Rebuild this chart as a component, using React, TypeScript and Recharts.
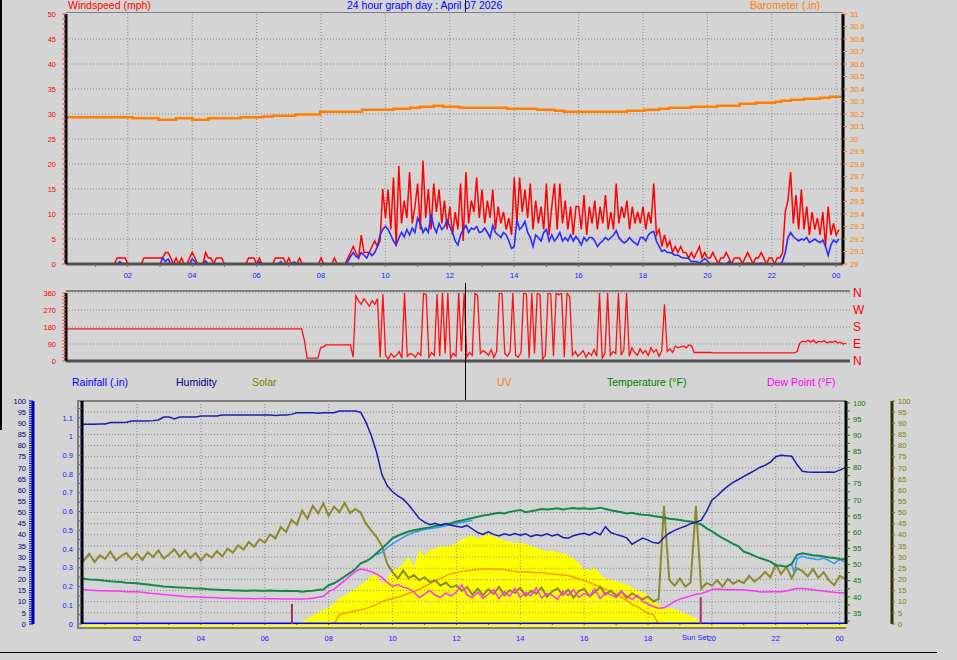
import React from 'react';
import { LineChart, ComposedChart, Line, Area, XAxis, YAxis, ReferenceLine } from 'recharts';

const FONT = '"Liberation Sans", Arial, Helvetica, sans-serif';
const BG = '#d4d4d4';

// ---- axes / labels ----
const HOUR_TICKS = [1, 2, 3, 4, 5, 6, 7, 8, 9, 10, 11, 12, 13, 14, 15, 16, 17, 18, 19, 20, 21, 22, 23, 24];
const HOUR_GRID = [2, 4, 6, 8, 10, 12, 14, 16, 18, 20, 22, 24];
const WIND_GRID = [5, 10, 15, 20, 25, 30, 35, 40, 45];
const BARO_TICKS = [29, 29.1, 29.2, 29.3, 29.4, 29.5, 29.6, 29.7, 29.8, 29.9, 30, 30.1, 30.2, 30.3, 30.4, 30.5, 30.6, 30.7, 30.8, 30.9, 31];
const DIR_TICKS = [0, 18, 36, 54, 72, 90, 108, 126, 144, 162, 180, 198, 216, 234, 252, 270, 288, 306, 324, 342, 360];
const DIR_GRID = [90, 180, 270, 360];
const COMPASS_TICKS = [0, 90, 180, 270, 360];
const COMPASS_NAMES = ['N', 'E', 'S', 'W', 'N'];
const RAIN_LABELS = [0, 0.1, 0.2, 0.3, 0.4, 0.5, 0.6, 0.7, 0.8, 0.9, 1, 1.1];
const TEMP_LABELS = [35, 40, 45, 50, 55, 60, 65, 70, 75, 80, 85, 90, 95, 100];
const SOLAR_LABELS = [0, 5, 10, 15, 20, 25, 30, 35, 40, 45, 50, 55, 60, 65, 70, 75, 80, 85, 90, 95, 100];
const HUM_GRID = [5, 10, 15, 20, 25, 30, 35, 40, 45, 50, 55, 60, 65, 70, 75, 80, 85, 90, 95];

// ---- wind, 5 minute readings (one row per hour) ----
const GUST_MPH = [
  1.2, 0, 0, 0, 0, 0, 0, 0, 0, 0, 0, 0,
  0, 0, 0, 0, 0, 0, 0, 0, 1.2, 1.2, 1.2, 1.2,
  0, 0, 0, 0, 0, 0, 1.2, 1.2, 1.2, 1.2, 1.2, 1.2,
  1.2, 1.2, 2.3, 2.3, 1.2, 0, 1.2, 0, 1.2, 0, 0, 1.2,
  2.3, 1.2, 0, 0, 0, 2.3, 1.2, 1.2, 0, 1.2, 1.2, 1.2,
  0, 0, 0, 0, 0, 0, 0, 0, 0, 1.2, 1.2, 1.2,
  0, 1.2, 0, 0, 0, 0, 0, 1.2, 1.2, 1.2, 1.2, 0,
  1.2, 0, 0, 0, 1.2, 0, 0, 0, 0, 0, 0, 0,
  1.2, 0, 0, 0, 0, 1.2, 0, 0, 0, 0, 1.2, 2.3,
  3.5, 2.3, 1.2, 5.8, 2.3, 2.3, 2.3, 3.5, 4.6, 3.5, 4.6, 15,
  9.2, 14.9, 6.9, 17.3, 3.5, 19.6, 8.1, 12.7, 9.2, 18.4, 8.1, 11.5,
  16.1, 6.9, 20.7, 9.2, 15, 6.9, 16.1, 10.4, 14.9, 8.1, 12.7, 6.9,
  11.5, 5.8, 10.4, 6.9, 16.1, 4.6, 18.4, 8.1, 12.7, 10.4, 17.3, 9.2,
  14.9, 8.1, 12.7, 9.2, 14.9, 6.9, 11.5, 8.1, 10.4, 6.9, 9.2, 5.8,
  17.3, 8.1, 17.3, 10.4, 14.9, 9.2, 16.1, 6.9, 12.7, 8.1, 11.5, 6.9,
  16.1, 5.8, 11.5, 16.1, 6.9, 16.1, 8.1, 12.7, 6.9, 11.5, 5.8, 11.5,
  11.5, 6.9, 13.8, 5.8, 11.5, 8.1, 12.7, 6.9, 11.5, 8.1, 13.8, 6.9,
  10.4, 6.9, 16.1, 8.1, 11.5, 9.2, 12.7, 6.9, 11.5, 8.1, 10.4, 8.1,
  11.5, 6.9, 10.4, 8.1, 16.1, 5.8, 6.9, 3.5, 5.8, 3.5, 4.6, 2.3,
  3.5, 2.3, 3.5, 2.3, 2.3, 1.2, 2.3, 1.2, 2.3, 3.5, 1.2, 2.3,
  1.2, 1.2, 2.3, 1.2, 0, 1.2, 1.2, 2.3, 1.2, 0, 1.2, 1.2,
  1.2, 0, 1.2, 2.3, 1.2, 0, 1.2, 1.2, 2.3, 1.2, 0, 1.2,
  1.2, 0, 1.2, 1.2, 2.3, 10.4, 12.7, 18.4, 8.1, 13.8, 6.9, 14.9,
  6.9, 11.5, 5.8, 10.4, 6.9, 9.2, 5.8, 10.4, 3.5, 11.5, 5.8, 8.1,
  5.8, 6.9,
];

const AVG_MPH = [
  0, 0, 0, 0, 0, 0, 0, 0, 0, 0, 0, 0,
  0, 0, 0, 0, 0, 0, 0, 0, 0, 0.5, 0, 0,
  0, 0, 0, 0, 0, 0, 0, 0, 0, 0, 0, 0,
  0, 1.2, 0.5, 1, 0, 0, 0, 0, 0, 0, 0, 0,
  1, 0.5, 0, 0, 0, 0.6, 0, 0, 0, 0, 0, 0,
  0, 0, 0, 0, 0, 0, 0, 0, 0, 0, 0, 0,
  0, 0.4, 0, 0, 0, 0, 0, 0, 0, 0.5, 0, 0,
  0, 0, 0.4, 0, 0, 0, 0, 0, 0, 0, 0, 0,
  0, 0, 0, 0, 0, 0, 0, 0, 0, 0, 0.5, 1.5,
  2.3, 1.5, 1.2, 2.3, 1.8, 1.2, 2.3, 1.7, 2.3, 3.5, 5.8, 6.9,
  7.5, 6.9, 5.8, 4.6, 3.8, 5.2, 6.3, 5.4, 6.9, 5.8, 7.2, 6.3,
  9.2, 8.1, 6.3, 7.2, 6.3, 10, 7.5, 6.3, 8.1, 6.9, 7.5, 8.8,
  7.5, 6.3, 4.6, 3.8, 5.8, 6.9, 7.7, 6.3, 7.2, 6.9, 7.5, 6.3,
  6.5, 7.2, 6.3, 5.3, 7.7, 6.3, 5.8, 5.3, 6.3, 5.8, 4.6, 3.1,
  3.5, 8.8, 6.9, 7.5, 8.5, 6.3, 5.3, 3.5, 5.8, 5.3, 4.6, 6.3,
  6.9, 4.6, 5.8, 4.6, 5.3, 6.3, 4.6, 5.3, 4.6, 5.8, 4.6, 5.5,
  4.8, 3.8, 5.3, 4.6, 5.3, 5.3, 4.6, 3.5, 4.2, 4.6, 5.3, 4.8,
  5.3, 5.8, 6.7, 5.3, 4.6, 4.2, 4.6, 5.3, 4.6, 4.2, 3.8, 5.3,
  5.3, 4.6, 5.8, 6.3, 6.5, 4.6, 3.5, 2.5, 2.8, 2.3, 2.3, 2.1,
  1.7, 1.8, 1.4, 1.2, 1.2, 1.1, 0.5, 0.5, 0.5, 0.2, 0.6, 1.1,
  0.6, 0, 0, 0, 0, 0.2, 0, 0, 0.5, 0, 0, 0,
  0, 0, 0, 0.2, 0, 0, 0, 0, 0.2, 0, 0, 0,
  0, 0, 0, 0, 0.6, 2.3, 5.3, 6.3, 5.5, 5.0, 4.6, 5.0,
  4.8, 5.3, 4.3, 4.6, 5.0, 4.6, 4.3, 4.8, 3.5, 1.7, 3.8, 4.8,
  4.3, 5.0,
];

const DIR_DEG = [
  170, 170, 170, 170, 170, 170, 170, 170, 170, 170, 170, 170,
  170, 170, 170, 170, 170, 170, 170, 170, 170, 170, 170, 170,
  170, 170, 170, 170, 170, 170, 170, 170, 170, 170, 170, 170,
  170, 170, 170, 170, 170, 170, 170, 170, 170, 170, 170, 170,
  170, 170, 170, 170, 170, 170, 170, 170, 170, 170, 170, 170,
  170, 170, 170, 170, 170, 170, 170, 170, 170, 170, 170, 170,
  170, 170, 170, 170, 170, 170, 170, 170, 170, 170, 170, 170,
  170, 170, 170, 170, 170, 110, 15, 15, 15, 15, 15, 70,
  75, 85, 85, 85, 85, 85, 85, 85, 85, 85, 85, 20,
  345, 320, 300, 330, 310, 290, 320, 300, 330, 20, 355, 30,
  10, 40, 20, 30, 50, 15, 360, 25, 40, 35, 20, 45,
  30, 360, 350, 20, 45, 30, 355, 25, 360, 40, 360, 15,
  40, 25, 360, 50, 360, 20, 45, 30, 360, 345, 40, 55,
  45, 30, 60, 20, 50, 360, 355, 40, 25, 50, 360, 30,
  20, 45, 360, 355, 15, 360, 40, 360, 350, 10, 30, 360,
  355, 25, 360, 350, 360, 20, 360, 340, 30, 50, 25, 40,
  55, 20, 45, 30, 60, 25, 360, 15, 40, 360, 30, 50,
  40, 360, 30, 60, 360, 25, 70, 45, 30, 65, 40, 55,
  30, 70, 45, 60, 25, 55, 300, 50, 65, 45, 80, 70,
  75, 80, 70, 85, 80, 45, 45, 45, 45, 45, 45, 45,
  43, 43, 43, 43, 43, 43, 43, 43, 43, 43, 43, 43,
  43, 43, 43, 43, 43, 43, 43, 43, 43, 43, 43, 43,
  43, 43, 43, 43, 43, 43, 43, 50, 95, 105, 100, 110,
  100, 110, 95, 105, 100, 108, 95, 102, 98, 106, 95, 100,
  90, 95,
];

// ---- barometer steps ----
const BARO_HOURS = [0, 2.15, 2.95, 3.5, 4.0, 4.5, 5.5, 6.2, 6.5, 7.2, 7.97, 9.27, 10.25, 10.77, 11.08, 11.5, 11.8, 12.3, 13.78, 14.71, 15.27, 15.55, 17.5, 18.04, 18.5, 18.8, 19.5, 20.3, 21.0, 21.5, 22.1, 22.3, 22.6, 23.0, 23.5, 23.8, 24.3];
const BARO_INHG = [30.174, 30.166, 30.155, 30.166, 30.155, 30.166, 30.174, 30.181, 30.187, 30.197, 30.219, 30.235, 30.243, 30.251, 30.259, 30.267, 30.259, 30.251, 30.243, 30.235, 30.227, 30.219, 30.227, 30.235, 30.243, 30.251, 30.259, 30.267, 30.283, 30.291, 30.299, 30.307, 30.315, 30.323, 30.331, 30.339, 30.339];

// ---- lower graph, 10 minute readings (one row per hour) ----
const HUMIDITY = [
  89.5, 89.6, 89.6, 89.6, 89.6, 89.7,
  89.7, 90.4, 90.4, 90.4, 90.5, 91.0,
  91.0, 91.0, 91.0, 91.2, 91.5, 92.8,
  92.8, 92.0, 92.8, 92.8, 92.8, 92.8,
  93.3, 93.3, 93.3, 93.3, 93.7, 93.7,
  93.7, 93.7, 93.7, 93.7, 93.7, 93.7,
  93.7, 93.7, 93.5, 93.7, 93.7, 94.0,
  94.7, 94.7, 94.7, 94.7, 94.5, 94.7,
  94.7, 94.7, 95.5, 95.5, 95.5, 95.5,
  95.0, 90.5, 84.5, 77.0, 67.0, 62.0,
  59.3, 57.5, 56.0, 53.5, 50.5, 47.3,
  45.7, 44.5, 45.2, 44.2, 45.0, 44.3,
  43.8, 43.4, 44.2, 42.6, 41.0, 40.2,
  41.3, 40.2, 39.5, 40.5, 39.8, 40.6,
  39.8, 40.5, 39.2, 40.0, 39.6, 40.4,
  39.5, 40.2, 38.8, 38.5, 39.6, 40.2,
  40.7, 39.8, 41.2, 40.0, 43.6, 41.0,
  40.2, 39.5, 38.6, 35.8, 37.2, 38.5,
  37.6, 36.5, 36.2, 38.8, 40.7, 42.0,
  43.0, 43.8, 45.0, 45.6, 46.6, 50.5,
  55.5, 57.5, 59.8, 61.8, 63.5, 64.8,
  66.2, 67.5, 68.8, 70.2, 71.2, 72.6,
  75.0, 75.7, 75.5, 75.2, 71.5, 68.5,
  68.2, 68.0, 68.0, 68.0, 68.2, 68.0,
  69.0, 70.0,
];

const TEMP_F = [
  46.0, 45.8, 45.6, 45.4, 45.3, 45.2,
  45.0, 44.8, 44.7, 44.6, 44.4, 44.3,
  44.2, 44.0, 43.8, 43.6, 43.4, 43.2,
  43.1, 43.0, 42.9, 42.8, 42.7, 42.6,
  42.6, 42.4, 42.3, 42.2, 42.1, 42.1,
  42.0, 42.0, 41.9, 41.9, 42.0, 41.9,
  41.9, 42.0, 41.9, 41.8, 41.9, 41.8,
  41.8, 41.6, 41.8, 41.9, 42.1, 42.3,
  43.6, 44.2, 45.2, 46.3, 47.4, 48.6,
  50.4, 51.0, 52.0, 53.5, 55.0, 56.5,
  58.1, 58.9, 59.6, 60.2, 60.6, 60.9,
  61.2, 61.5, 61.9, 62.2, 62.5, 62.8,
  63.3, 63.6, 64.0, 64.4, 64.8, 65.2,
  65.4, 65.7, 66.0, 65.8, 66.3, 66.6,
  66.9, 66.2, 66.5, 66.8, 67.2, 67.0,
  67.2, 67.4, 67.0, 67.3, 67.5, 67.3,
  67.4, 67.2, 67.3, 67.6, 67.2, 66.8,
  66.5, 66.2, 65.8, 66.0, 65.6, 65.4,
  65.3, 65.0, 64.8, 64.5, 64.2, 64.0,
  63.8, 63.5, 63.3, 62.9, 62.4, 61.2,
  60.3, 59.2, 58.2, 57.3, 56.4, 55.6,
  54.0, 53.4, 52.7, 52.0, 51.5, 50.9,
  49.8, 49.6, 49.3, 50.2, 53.0, 53.5,
  53.2, 52.9, 52.7, 52.5, 52.2, 52.0,
  51.7, 51.6,
];

const DEW_F = [
  42.6, 42.4, 42.3, 42.1, 42.0, 41.9,
  41.9, 41.8, 41.8, 41.7, 41.6, 41.6,
  41.6, 41.4, 41.2, 41.0, 40.9, 40.7,
  40.6, 40.4, 40.3, 40.1, 40.0, 40.0,
  39.9, 39.8, 39.8, 39.7, 39.6, 39.6,
  39.6, 39.5, 39.5, 39.5, 39.4, 39.5,
  39.5, 39.4, 39.4, 39.3, 39.3, 39.3,
  39.3, 39.3, 39.4, 39.6, 39.9, 40.2,
  41.6, 42.4, 43.7, 45.0, 46.5, 47.8,
  48.6, 48.3, 47.8, 47.0, 46.0, 44.5,
  43.2, 43.8, 43.0, 42.6, 41.5, 39.8,
  40.8, 42.0, 40.5, 39.8, 41.2, 40.2,
  41.5, 43.7, 40.6, 39.8, 41.4, 39.6,
  40.8, 42.2, 39.5, 41.6, 40.2, 42.6,
  39.8, 41.4, 40.3, 42.8, 39.6, 41.0,
  40.5, 39.2, 41.8, 40.4, 42.2, 39.8,
  41.0, 40.3, 42.4, 39.5, 41.2, 40.6,
  39.8, 41.6, 40.2, 39.2, 40.5, 38.6,
  37.8, 37.0, 36.5, 36.6, 37.5, 38.6,
  39.3, 39.8, 40.3, 40.8, 41.0, 41.6,
  42.3, 42.4, 42.3, 42.2, 42.3, 42.2,
  42.2, 42.0, 41.8, 41.6, 41.5, 41.6,
  41.6, 41.6, 41.8, 42.3, 42.6, 42.6,
  42.4, 42.2, 42.0, 41.8, 41.6, 41.4,
  41.3, 41.2,
];

const OLIVE = [
  26.0, 32.7, 28.5, 31.5, 27.8, 30.8,
  29.2, 32.4, 28.6, 30.5, 31.8, 29.0,
  31.6, 28.8, 32.2, 30.0, 33.0, 29.4,
  31.2, 33.5, 30.2, 32.8, 29.6, 31.8,
  28.4, 31.5, 29.8, 32.6, 30.4, 33.8,
  32.0, 35.2, 33.4, 36.8, 34.6, 38.0,
  36.5, 40.2, 38.4, 43.5, 41.2, 46.8,
  44.5, 50.8, 47.2, 53.0, 49.6, 54.0,
  48.5, 52.6, 50.2, 54.2, 49.8, 51.6,
  50.0, 45.0, 42.0, 39.0, 35.0, 27.0,
  23.3, 20.4, 24.0, 20.6, 22.0, 19.6,
  21.0, 18.8, 19.6, 17.2, 18.6, 16.4,
  17.3, 14.8, 16.6, 13.2, 15.8, 12.9,
  15.6, 13.4, 16.7, 12.8, 15.2, 14.0,
  16.2, 12.6, 14.8, 13.6, 16.4, 12.2,
  14.6, 16.0, 13.0, 15.4, 11.8, 14.8,
  15.8, 12.4, 14.2, 16.6, 13.2, 15.0,
  12.6, 14.6, 11.6, 13.8, 12.2, 11.0,
  12.3, 10.1, 11.2, 53.0, 19.8, 17.2,
  20.4, 16.8, 18.6, 53.0, 15.8, 18.4,
  17.2, 19.6, 16.8, 20.2, 18.0, 19.4,
  18.4, 21.6, 19.0, 20.8, 23.3, 21.0,
  26.8, 22.4, 25.6, 20.6, 25.0, 23.8,
  21.4, 24.6, 20.8, 23.2, 19.6, 17.4,
  21.6, 20.2,
];

const SOLAR = [
  0, 0, 0, 0, 0, 0,
  0, 0, 0, 0, 0, 0,
  0, 0, 0, 0, 0, 0,
  0, 0, 0, 0, 0, 0,
  0, 0, 0, 0, 0, 0,
  0, 0, 0, 0, 0, 0,
  0, 0, 0, 0, 0, 0,
  0, 0.8, 2.2, 3.8, 5.0, 6.0,
  7.0, 9.2, 11.4, 12.6, 14.2, 15.5,
  17.2, 19.4, 21.0, 22.4, 17.3, 20.5,
  23.2, 24.8, 26.8, 29.8, 25.0, 32.7,
  30.5, 33.0, 33.4, 35.0, 34.2, 34.9,
  36.0, 37.8, 38.6, 39.3, 38.0, 39.2,
  40.0, 39.0, 38.2, 37.0, 36.8, 36.0,
  36.4, 35.6, 34.9, 34.0, 33.0, 32.4,
  32.6, 32.0, 31.6, 30.5, 29.0, 27.0,
  24.6, 24.0, 24.8, 22.0, 20.2, 19.6,
  19.0, 18.2, 17.6, 16.0, 15.0, 13.8,
  12.4, 10.2, 8.4, 7.0, 6.8, 6.4,
  5.6, 4.6, 3.4, 2.0, 0.6, 0,
  0, 0, 0, 0, 0, 0,
  0, 0, 0, 0, 0, 0,
  0, 0, 0, 0, 0, 0,
  0, 0, 0, 0, 0, 0,
  0, 0,
];

const UV = [
  null, null, null, null, null, null,
  null, null, null, null, null, null,
  null, null, null, null, null, null,
  null, null, null, null, null, null,
  null, null, null, null, null, null,
  null, null, null, null, null, null,
  null, null, null, null, null, null,
  null, null, null, null, null, null,
  null, 0, 4.1, 4.8, 5.4, 5.8,
  6.4, 7.0, 7.8, 8.8, 10.0, 10.8,
  11.4, 12.0, 12.8, 13.8, 14.6, 15.6,
  16.8, 18.0, 19.2, 20.4, 21.6, 22.6,
  23.0, 23.6, 23.9, 24.2, 24.6, 24.6,
  24.8, 24.6, 24.6, 24.4, 24.0, 23.6,
  23.2, 23.4, 23.2, 23.0, 23.2, 22.6,
  22.4, 22.2, 22.0, 21.7, 21.0, 20.2,
  19.5, 18.6, 17.6, 16.8, 15.6, 14.4,
  13.4, 12.0, 10.6, 8.8, 7.8, 6.2,
  4.8, 4.1, 0, null, null, null,
  null, null, null, null, null, null,
  null, null, null, null, null, null,
  null, null, null, null, null, null,
  null, null, null, null, null, null,
  null, null, null, null, null, null,
  null, null,
];

const RAIN_HOURS = [0, 1, 2, 3, 4, 5, 6, 7, 8, 9, 10, 11, 12, 13, 14, 15, 16, 17, 18, 19, 20, 21, 22, 23, 24, 24.3];
const RAIN_IN = [0, 0, 0, 0, 0, 0, 0, 0, 0, 0, 0, 0, 0, 0, 0, 0, 0, 0, 0, 0, 0, 0, 0, 0, 0, 0];

const CHILL_HOURS = [9.5, 9.67, 9.83, 10.0, 10.17, 10.33, 10.5, 10.67, 10.83, 11.0, 11.5, 12.0, 12.5, 17.0, 22.5, 22.58, 22.67, 22.83, 23.0, 23.17, 23.33, 23.5, 23.67, 23.83, 24.0, 24.17];
const CHILL_F = [53.0, 53.8, 55.2, 56.4, 57.4, 58.4, 59.3, 59.9, 60.4, 60.8, 61.6, 62.8, 63.6, null, 50.0, 47.4, 51.8, 52.6, 52.0, 51.8, 51.5, 52.0, 51.2, 50.3, 51.6, 50.8];

const SUNRISE_H = 6.85;
const SUNSET_H = 19.65;

// ---- tables ----
const windRows = GUST_MPH.map((g, i) => ({ h: i / 12, gust: g, avg: AVG_MPH[i], dir: DIR_DEG[i] }));
const baroRows = BARO_HOURS.map((h, i) => ({ h, baro: BARO_INHG[i] }));
const lowRows = HUMIDITY.map((v, i) => ({
  h: i / 6,
  hum: v,
  temp: TEMP_F[i],
  dew: DEW_F[i],
  olive: OLIVE[i],
  solar: SOLAR[i],
  uv: UV[i],
}));
const chillRows = CHILL_HOURS.map((h, i) => ({ h, chill: CHILL_F[i] }));
const rainRows = RAIN_HOURS.map((h, i) => ({ h, rain: RAIN_IN[i] }));

const WIND_TICKS = Array.from({ length: 51 }, (_, i) => i);
const HUM_TICKS = Array.from({ length: 101 }, (_, i) => i);
const RAIN_TICKS = RAIN_LABELS.flatMap((v) => [v, v + 0.05]);
const TEMP_TICKS = TEMP_LABELS.flatMap((v) => [v - 2.5, v]);

const hourLabel = (h: number) => (h % 2 === 0 ? String(h % 24).padStart(2, '0') : '');
const tickFont = (fill: string) => ({ fill, fontSize: 7.5, fontFamily: FONT });
const dotted = { stroke: '#8c8c8c', strokeDasharray: '1 2', strokeWidth: 1 };

const LEGEND = [
  { text: 'Rainfall (.in)', color: '#0000ff', x: 72 },
  { text: 'Humidity', color: '#000080', x: 176 },
  { text: 'Solar', color: '#808000', x: 252 },
  { text: 'UV', color: '#ff8000', x: 497 },
  { text: 'Temperature (°F)', color: '#008000', x: 607 },
  { text: 'Dew Point (°F)', color: '#ff00ff', x: 767 },
];

const abs = (left: number, top: number, extra: React.CSSProperties = {}): React.CSSProperties => ({
  position: 'absolute',
  left,
  top,
  ...extra,
});

export default function App() {
  return (
    <div style={{ position: 'absolute', left: 0, top: 0, width: 957, height: 660, background: BG, overflow: 'hidden', fontFamily: FONT }}>
      {/* frames */}
      <div style={abs(66, 12, { width: 777, height: 1, background: '#808080' })} />
      <div style={abs(66, 290, { width: 784, height: 1.5, background: '#808080' })} />
      <div style={abs(77, 400, { width: 767, height: 225, borderLeft: '2px solid #808080', borderTop: '2px solid #808080', borderBottom: '2px solid #808080' })} />
      <div style={abs(0, 0, { width: 1.5, height: 430, background: '#000' })} />
      <div style={abs(0, 652, { width: 937, height: 1, background: '#000' })} />

      {/* titles */}
      <div style={abs(68, -1, { color: '#ff0000', fontSize: 10.5 })}>Windspeed (mph)</div>
      <div style={abs(347, -1, { color: '#0000ff', fontSize: 10.5 })}>24 hour graph day : April 07 2026</div>
      <div style={abs(750, -1, { color: '#ff8000', fontSize: 10.5 })}>Barometer (.in)</div>
      <div style={abs(465, 0, { width: 1, height: 12, background: '#000' })} />

      {/* wind speed + barometer */}
      <div style={abs(0, 0)}>
        <LineChart width={957} height={286} data={windRows} margin={{ top: 14, right: 59, bottom: 0, left: 8 }}>
          <XAxis dataKey="h" type="number" domain={[0.08, 24.21]} allowDataOverflow ticks={HOUR_TICKS} interval={0}
            tickFormatter={hourLabel} height={22} tickSize={3} tickMargin={6} tick={tickFont('#2020ff')}
            tickLine={{ stroke: '#707070' }} axisLine={{ stroke: '#505050', strokeWidth: 3 }} />
          <YAxis yAxisId="wind" domain={[0, 50]} allowDataOverflow ticks={WIND_TICKS} interval={0}
            tickFormatter={(v: number) => (v % 5 === 0 ? String(v) : '')} width={58} tickSize={4} tickMargin={6}
            tick={tickFont('#ff0000')} tickLine={{ stroke: '#ff5050' }} axisLine={{ stroke: '#000', strokeWidth: 3 }} />
          <YAxis yAxisId="baro" orientation="right" domain={[29, 31]} allowDataOverflow ticks={BARO_TICKS} interval={0}
            tickFormatter={(v: number) => (Number.isInteger(v) ? String(v) : v.toFixed(1))} width={55} tickSize={4} tickMargin={3}
            tick={tickFont('#ff8000')} tickLine={{ stroke: '#ff8000' }} axisLine={{ stroke: '#000', strokeWidth: 3 }} />
          {WIND_GRID.map((v) => <ReferenceLine key={'wg' + v} yAxisId="wind" y={v} {...dotted} />)}
          {HOUR_GRID.map((h) => <ReferenceLine key={'wv' + h} yAxisId="wind" x={h} {...dotted} />)}
          <Line yAxisId="baro" data={baroRows} dataKey="baro" type="stepAfter" stroke="#ff8000" strokeWidth={2.5} dot={false} activeDot={false} isAnimationActive={false} />
          <Line yAxisId="wind" dataKey="gust" type="linear" stroke="#ff0000" strokeWidth={1.5} dot={false} activeDot={false} isAnimationActive={false} />
          <Line yAxisId="wind" dataKey="avg" type="linear" stroke="#2b2bff" strokeWidth={1.6} dot={false} activeDot={false} isAnimationActive={false} />
        </LineChart>
      </div>

      {/* wind direction */}
      <div style={abs(0, 285)}>
        <LineChart width={957} height={88} data={windRows} margin={{ top: 8, right: 67, bottom: 12, left: 8 }}>
          <XAxis dataKey="h" type="number" domain={[0.08, 24.21]} allowDataOverflow hide />
          <YAxis yAxisId="dir" domain={[0, 360]} allowDataOverflow ticks={DIR_TICKS} interval={0}
            tickFormatter={(v: number) => (v % 90 === 0 ? String(v) : '')} width={58} tickSize={4} tickMargin={6}
            tick={tickFont('#ff0000')} tickLine={{ stroke: '#ff5050' }} axisLine={{ stroke: '#000', strokeWidth: 3 }} />
          <YAxis yAxisId="compass" orientation="right" domain={[0, 360]} allowDataOverflow ticks={COMPASS_TICKS} interval={0}
            tickFormatter={(v: number) => COMPASS_NAMES[COMPASS_TICKS.indexOf(v)]} width={40} tickSize={0} tickMargin={3}
            tick={{ fill: '#ff0000', fontSize: 12, fontFamily: FONT }} tickLine={false} axisLine={false} />
          {DIR_GRID.map((v) => <ReferenceLine key={'dg' + v} yAxisId="dir" y={v} {...dotted} />)}
          <ReferenceLine yAxisId="dir" y={0} stroke="#505050" strokeWidth={3} />
          <Line yAxisId="compass" dataKey="dir" type="linear" stroke="none" strokeWidth={0} dot={false} activeDot={false} isAnimationActive={false} />
          <Line yAxisId="dir" dataKey="dir" type="linear" stroke="#ff1010" strokeWidth={1.3} dot={false} activeDot={false} isAnimationActive={false} />
        </LineChart>
      </div>

      {/* cursor */}
      <div style={abs(465, 283, { width: 1, height: 117, background: '#000' })} />

      {/* legend row */}
      {LEGEND.map((l) => (
        <div key={l.text} style={abs(l.x, 376, { color: l.color, fontSize: 10.5 })}>{l.text}</div>
      ))}

      {/* lower graph: ids prefixed so that rain and temp sit next to the plot */}
      <div style={abs(0, 392)}>
        <ComposedChart width={957} height={260} data={lowRows} margin={{ top: 9, right: 35, bottom: 0, left: 8 }}>
          <XAxis dataKey="h" type="number" domain={[0.275, 24.2]} allowDataOverflow ticks={HOUR_TICKS} interval={0}
            tickFormatter={hourLabel} height={28} tickSize={4} tickMargin={8} tick={tickFont('#2020ff')}
            tickLine={{ stroke: '#606060' }} axisLine={false} />
          <YAxis yAxisId="a_rain" domain={[0, 1.19]} allowDataOverflow ticks={RAIN_TICKS} interval={0}
            tickFormatter={(v: number, i: number) => (i % 2 === 0 ? String(Math.round(v * 10) / 10) : '')}
            width={49} tickSize={3} tickMargin={6} tick={tickFont('#2020ff')} tickLine={{ stroke: '#4040ff' }}
            axisLine={{ stroke: '#000', strokeWidth: 3 }} />
          <YAxis yAxisId="b_hum" domain={[0, 100]} allowDataOverflow ticks={HUM_TICKS} interval={0}
            tickFormatter={(v: number) => (v % 5 === 0 ? String(v) : '')} width={25} tickSize={4} tickMargin={3}
            tick={tickFont('#000080')} tickLine={{ stroke: '#0000c0' }} axisLine={{ stroke: '#0000b0', strokeWidth: 3 }} />
          <YAxis yAxisId="a_temp" orientation="right" domain={[31.6, 100.6]} allowDataOverflow ticks={TEMP_TICKS} interval={0}
            tickFormatter={(v: number) => (v % 5 === 0 ? String(v) : '')} width={46} tickSize={4} tickMargin={3}
            tick={tickFont('#008000')} tickLine={{ stroke: '#008000' }} axisLine={{ stroke: '#000', strokeWidth: 3 }} />
          <YAxis yAxisId="b_sol" orientation="right" domain={[0, 100]} allowDataOverflow ticks={SOLAR_LABELS} interval={0}
            width={30} tickSize={3} tickMargin={3} tick={tickFont('#808000')} tickLine={{ stroke: '#808000' }}
            axisLine={{ stroke: '#333300', strokeWidth: 3 }} />
          {HUM_GRID.map((v) => <ReferenceLine key={'hg' + v} yAxisId="b_hum" y={v} {...dotted} />)}
          {HOUR_GRID.map((h) => <ReferenceLine key={'hv' + h} yAxisId="b_hum" x={h} {...dotted} />)}
          <Area yAxisId="b_sol" dataKey="solar" type="linear" stroke="#ffff00" fill="#ffff00" fillOpacity={1} strokeWidth={1} dot={false} activeDot={false} isAnimationActive={false} />
          <Line yAxisId="b_sol" dataKey="uv" type="linear" stroke="#ff9900" strokeWidth={1.5} dot={false} activeDot={false} isAnimationActive={false} />
          <Line yAxisId="b_sol" dataKey="olive" type="linear" stroke="#8c8a2e" strokeWidth={2} dot={false} activeDot={false} isAnimationActive={false} />
          <Line yAxisId="a_temp" dataKey="dew" type="linear" stroke="#ff33ff" strokeWidth={1.5} dot={false} activeDot={false} isAnimationActive={false} />
          <Line yAxisId="a_temp" data={chillRows} dataKey="chill" type="linear" stroke="#3399ff" strokeWidth={1.5} dot={false} activeDot={false} isAnimationActive={false} />
          <Line yAxisId="a_temp" dataKey="temp" type="linear" stroke="#14874a" strokeWidth={2} dot={false} activeDot={false} isAnimationActive={false} />
          <Line yAxisId="b_hum" dataKey="hum" type="linear" stroke="#1c1ca8" strokeWidth={1.5} dot={false} activeDot={false} isAnimationActive={false} />
          <Line yAxisId="a_rain" data={rainRows} dataKey="rain" type="linear" stroke="#0000ff" strokeWidth={3} dot={false} activeDot={false} isAnimationActive={false} />
          <ReferenceLine yAxisId="b_hum" segment={[{ x: SUNRISE_H, y: 0 }, { x: SUNRISE_H, y: 9 }]} stroke="#993366" strokeWidth={2} />
          <ReferenceLine yAxisId="b_hum" segment={[{ x: SUNSET_H, y: 0 }, { x: SUNSET_H, y: 12 }]} stroke="#993366" strokeWidth={2} />
        </ComposedChart>
      </div>
      <div style={abs(82, 625, { width: 764, height: 2, background: '#ffff00' })} />
      <div style={abs(682, 633, { color: '#2020ff', fontSize: 7.5 })}>Sun Set</div>
    </div>
  );
}
